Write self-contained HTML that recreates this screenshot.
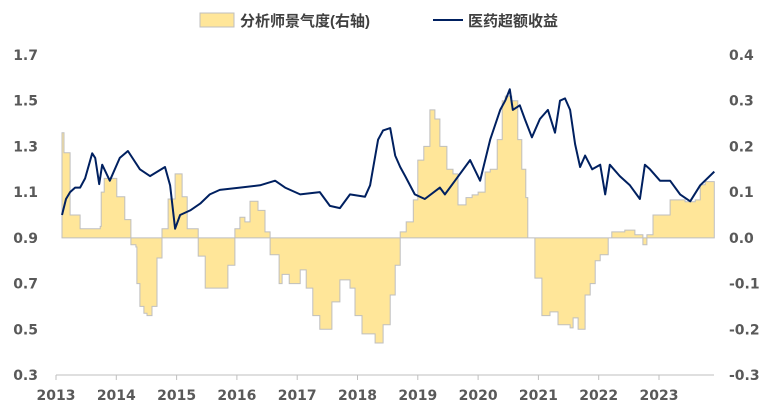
<!DOCTYPE html>
<html><head><meta charset="utf-8"><style>
html,body{margin:0;padding:0;background:#fff;}
svg{display:block;font-family:"Liberation Sans","Noto Sans CJK SC",sans-serif;}
.tk{font-size:14px;font-weight:bold;fill:#595959;font-family:"DejaVu Sans",sans-serif;}
</style></head><body>
<svg id="c" width="771" height="411"></svg>
<script>
// months since Jan 2013
const lineMonths=[1.2,2.0,2.8,3.8,4.8,5.8,7.2,7.8,8.6,9.2,10.7,12.7,14.3,16.7,18.7,21.7,22.7,23.7,24.7,26.7,28.7,30.6,32.6,36.6,40.6,43.6,45.6,48.6,52.5,54.5,56.5,58.5,61.5,62.5,64.1,65.1,66.5,67.5,68.5,69.5,71.4,73.4,76.4,77.4,79.4,82.4,84.4,86.4,88.4,89.4,90.3,90.9,92.3,93.3,94.7,96.3,97.9,99.3,100.3,101.3,102.3,103.3,104.3,105.3,106.7,108.3,109.3,110.2,112.2,114.2,116.2,117.2,118.2,120.2,122.2,124.2,126.2,128.2,131];
const lineValues=[1.0,1.07,1.1,1.12,1.12,1.16,1.27,1.25,1.135,1.22,1.15,1.25,1.28,1.2,1.17,1.21,1.13,0.94,1.0,1.02,1.05,1.09,1.11,1.12,1.13,1.15,1.12,1.09,1.1,1.04,1.03,1.09,1.08,1.13,1.33,1.37,1.38,1.26,1.21,1.17,1.09,1.07,1.12,1.09,1.15,1.24,1.15,1.33,1.46,1.5,1.55,1.46,1.48,1.42,1.34,1.42,1.46,1.36,1.5,1.51,1.46,1.31,1.21,1.26,1.2,1.22,1.09,1.22,1.17,1.13,1.07,1.22,1.2,1.15,1.15,1.09,1.06,1.13,1.19];
const areaMonths=[1.2,1.6,2.4,2.8,4.8,7.8,8.8,9.0,9.6,11.7,12.1,13.7,14.9,15.9,16.1,16.7,17.5,18.1,19.1,20.1,21.1,22.3,23.7,25.1,26.1,28.3,29.7,32.6,34.2,35.6,36.6,37.6,38.6,40.2,41.6,42.6,44.4,45,46.4,48.6,49.8,51.1,52.5,53.5,54.9,56.5,58.5,59.5,60.9,63.5,65.1,66.5,67.5,68.5,69.7,71.1,72,73.2,74.4,75.4,76.4,77.8,79,80,81.6,82.8,84,85.4,86.4,87.8,88.8,89.4,90.7,91.9,92.7,93.5,93.9,94.9,95.3,96.7,98.3,99.9,102.3,102.9,103.9,105.3,106.3,107.3,108.3,109.9,110.6,113.2,115.2,116.8,117.6,118.8,120.8,122.2,125.2,127.2,128.2,129.2,131];
const areaValues=[0.23,0.186,0.186,0.05,0.02,0.02,0.025,0.1,0.13,0.13,0.09,0.04,-0.015,-0.02,-0.1,-0.15,-0.165,-0.17,-0.15,-0.044,0.02,0.085,0.14,0.09,0.02,-0.04,-0.11,-0.11,-0.06,0.02,0.045,0.035,0.08,0.06,0.013,-0.037,-0.1,-0.08,-0.1,-0.07,-0.11,-0.17,-0.2,-0.2,-0.14,-0.092,-0.11,-0.17,-0.21,-0.23,-0.19,-0.125,-0.06,0.013,0.035,0.083,0.17,0.2,0.28,0.26,0.2,0.15,0.14,0.072,0.088,0.094,0.1,0.144,0.15,0.215,0.3,0.31,0.3,0.215,0.15,0.088,0,0,-0.088,-0.17,-0.162,-0.19,-0.197,-0.175,-0.2,-0.125,-0.1,-0.05,-0.037,0,0.013,0.017,0.007,-0.015,0.007,0.05,0.05,0.083,0.079,0.083,0.116,0.123,0.123];
const leftTicks=[1.7,1.5,1.3,1.1,0.9,0.7,0.5,0.3];
const rightTicks=[0.4,0.3,0.2,0.1,0.0,-0.1,-0.2,-0.3];
const years=[2013,2014,2015,2016,2017,2018,2019,2020,2021,2022,2023];

const NS="http://www.w3.org/2000/svg";
const svg=document.getElementById('c');
const X=m=>56+m*60.3/12;
const YL=v=>55+(1.7-v)/1.4*320;
const YR=v=>55+(0.4-v)/0.7*320;
function mk(t,a,p){const e=document.createElementNS(NS,t);for(const k in a)e.setAttribute(k,a[k]);(p||svg).appendChild(e);return e;}

// area (step)
let d='M'+X(areaMonths[0]).toFixed(1)+','+YR(0);
areaMonths.forEach((m,i)=>{
 if(i>0) d+=' H'+X(m).toFixed(1);
 d+=' V'+YR(areaValues[i]).toFixed(1);
});
d+=' V'+YR(0)+' Z';
const area=mk('path',{d:d,fill:'#FFE699',stroke:'#BFBFBF','stroke-width':1});



// x axis
const ax=mk('line',{x1:56,x2:714,y1:375,y2:375,stroke:'#BFBFBF','stroke-width':1});


years.forEach(y=>{
 const x=X((y-2013)*12);
 mk('line',{x1:x,x2:x,y1:375,y2:380,stroke:'#BFBFBF'});
 const t=mk('text',{x:x,y:400,'text-anchor':'middle',class:'tk'});t.textContent=y;
 
 
});
leftTicks.forEach(v=>{
 const t=mk('text',{x:38,y:YL(v)+5,'text-anchor':'end',class:'tk'});t.textContent=v.toFixed(1);
 
 
});
rightTicks.forEach(v=>{
 const t=mk('text',{x:729,y:YR(v)+5,'text-anchor':'start',class:'tk'});t.textContent=v.toFixed(1);
 
 
});

// line
let p='';
lineMonths.forEach((m,i)=>{p+=(i?' L':'M')+X(m).toFixed(1)+','+YL(lineValues[i]).toFixed(1);});
const ln=mk('path',{d:p,fill:'none',stroke:'#002060','stroke-width':2,'stroke-linejoin':'round'});



// legend
const g=mk('g',{});


const sw=mk('rect',{x:200,y:13,width:34,height:14,fill:'#FFE699',stroke:'#BFBFBF'},g);


const t1=mk('text',{x:240,y:26,'font-size':15,'font-weight':'bold',fill:'#404040'},g);t1.textContent='分析师景气度(右轴)';


const ll=mk('line',{x1:433,x2:463,y1:20,y2:20,stroke:'#002060','stroke-width':2},g);


const t2=mk('text',{x:468,y:26,'font-size':15,'font-weight':'bold',fill:'#404040'},g);t2.textContent='医药超额收益';


</script>
</body></html>
